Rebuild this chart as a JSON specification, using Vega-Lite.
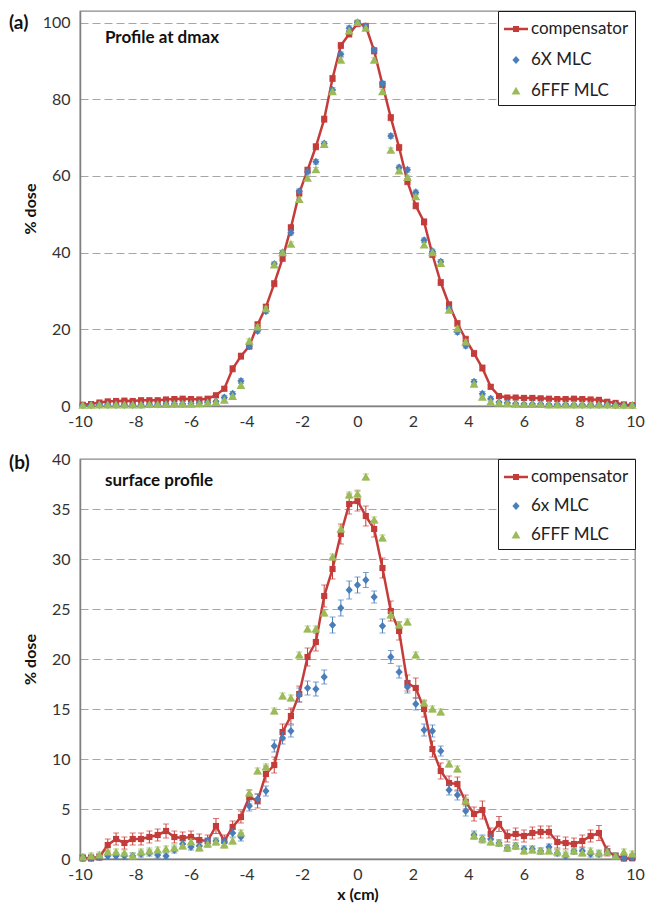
{
  "$schema": "https://vega.github.io/schema/vega-lite/v6.json",
  "background": "white",
  "padding": {"left": 8, "top": 9, "right": 0, "bottom": 0},
  "spacing": 20,
  "config": {
    "font": "Lato",
    "view": {"stroke": "#898989", "strokeWidth": 1.3},
    "axis": {"labelFont": "Lato", "labelFontSize": 16, "labelColor": "#333333", "titleFont": "Lato", "titleFontSize": 16, "titleFontWeight": "bold", "titleColor": "#111111", "ticks": false, "tickSize": 0, "domainColor": "#808080", "domainWidth": 1.5, "gridColor": "#A6A6A6", "gridDash": [8, 4], "gridWidth": 1.2},
    "axisX": {"grid": false, "labelPadding": 7, "titlePadding": 4, "labelFlush": false, "labelOverlap": false},
    "axisY": {"grid": true, "labelPadding": 10, "titlePadding": 1, "minExtent": 41, "maxExtent": 41},
    "legend": {"orient": "top-right", "offset": 0, "symbolSize": 576, "labelFontSize": 17, "labelFont": "Lato", "labelColor": "#222222", "padding": 6, "labelOffset": 3, "strokeColor": "#1a1a1a", "fillColor": "white", "symbolStrokeWidth": 0}
  },
  "resolve": {"scale": {"x": "independent", "y": "independent", "color": "independent", "shape": "independent"}, "legend": {"color": "independent", "shape": "independent"}},
  "datasets": {
    "a": [
      {"x":-9.9,"s":"compensator","y":0.3,"e":0.3},{"x":-9.6,"s":"compensator","y":0.5,"e":0.3},{"x":-9.3,"s":"compensator","y":0.9,"e":0.3},{"x":-9,"s":"compensator","y":1.2,"e":0.3},{"x":-8.7,"s":"compensator","y":1.3,"e":0.3},{"x":-8.4,"s":"compensator","y":1.4,"e":0.3},{"x":-8.1,"s":"compensator","y":1.3,"e":0.3},{"x":-7.8,"s":"compensator","y":1.5,"e":0.3},{"x":-7.5,"s":"compensator","y":1.5,"e":0.3},{"x":-7.2,"s":"compensator","y":1.5,"e":0.3},{"x":-6.9,"s":"compensator","y":1.7,"e":0.3},{"x":-6.6,"s":"compensator","y":1.8,"e":0.3},{"x":-6.3,"s":"compensator","y":1.9,"e":0.3},{"x":-6,"s":"compensator","y":1.8,"e":0.3},{"x":-5.7,"s":"compensator","y":1.7,"e":0.3},{"x":-5.4,"s":"compensator","y":1.9,"e":0.3},{"x":-5.1,"s":"compensator","y":2.8,"e":0.3},
      {"x":-4.8,"s":"compensator","y":4.5,"e":0.5},{"x":-4.5,"s":"compensator","y":9.7,"e":0.8},{"x":-4.2,"s":"compensator","y":13,"e":0.8},{"x":-3.9,"s":"compensator","y":15.6,"e":0.8},{"x":-3.6,"s":"compensator","y":21.2,"e":0.8},{"x":-3.3,"s":"compensator","y":25.8,"e":0.8},{"x":-3,"s":"compensator","y":31.9,"e":0.8},{"x":-2.7,"s":"compensator","y":38.5,"e":0.8},{"x":-2.4,"s":"compensator","y":46.5,"e":0.8},{"x":-2.1,"s":"compensator","y":55.5,"e":0.8},{"x":-1.8,"s":"compensator","y":61.5,"e":0.8},{"x":-1.5,"s":"compensator","y":67.6,"e":0.8},{"x":-1.2,"s":"compensator","y":74.8,"e":0.8},{"x":-0.9,"s":"compensator","y":85.4,"e":0.8},{"x":-0.6,"s":"compensator","y":94,"e":0.8},{"x":-0.3,"s":"compensator","y":97,"e":0.8},{"x":0,"s":"compensator","y":99.7,"e":0.8},
      {"x":0.3,"s":"compensator","y":99,"e":0.8},{"x":0.6,"s":"compensator","y":92.6,"e":0.8},{"x":0.9,"s":"compensator","y":83.8,"e":0.8},{"x":1.2,"s":"compensator","y":75.2,"e":0.8},{"x":1.5,"s":"compensator","y":67.4,"e":0.8},{"x":1.8,"s":"compensator","y":58.5,"e":0.8},{"x":2.1,"s":"compensator","y":52.2,"e":0.8},{"x":2.4,"s":"compensator","y":48,"e":0.8},{"x":2.7,"s":"compensator","y":39.5,"e":0.8},{"x":3,"s":"compensator","y":32.2,"e":0.8},{"x":3.3,"s":"compensator","y":26.4,"e":0.8},{"x":3.6,"s":"compensator","y":21.5,"e":0.8},{"x":3.9,"s":"compensator","y":17.4,"e":0.8},{"x":4.2,"s":"compensator","y":13.7,"e":0.8},{"x":4.5,"s":"compensator","y":9.9,"e":0.8},{"x":4.8,"s":"compensator","y":5,"e":0.5},
      {"x":5.1,"s":"compensator","y":2.6,"e":0.3},{"x":5.4,"s":"compensator","y":2.2,"e":0.3},{"x":5.7,"s":"compensator","y":2.2,"e":0.3},{"x":6,"s":"compensator","y":2.1,"e":0.3},{"x":6.3,"s":"compensator","y":2.1,"e":0.3},{"x":6.6,"s":"compensator","y":2,"e":0.3},{"x":6.9,"s":"compensator","y":1.9,"e":0.3},{"x":7.2,"s":"compensator","y":1.8,"e":0.3},{"x":7.5,"s":"compensator","y":1.8,"e":0.3},{"x":7.8,"s":"compensator","y":1.9,"e":0.3},{"x":8.1,"s":"compensator","y":1.8,"e":0.3},{"x":8.4,"s":"compensator","y":1.7,"e":0.3},{"x":8.7,"s":"compensator","y":1.6,"e":0.3},{"x":9,"s":"compensator","y":1.1,"e":0.3},{"x":9.3,"s":"compensator","y":0.8,"e":0.3},{"x":9.6,"s":"compensator","y":0.4,"e":0.3},{"x":9.9,"s":"compensator","y":0.2,"e":0.3},

      {"x":-9.9,"s":"6X MLC","y":0.2,"e":0.2},{"x":-9.6,"s":"6X MLC","y":0.2,"e":0.2},{"x":-9.3,"s":"6X MLC","y":0.3,"e":0.2},{"x":-9,"s":"6X MLC","y":0.3,"e":0.2},{"x":-8.7,"s":"6X MLC","y":0.3,"e":0.2},{"x":-8.4,"s":"6X MLC","y":0.3,"e":0.2},{"x":-8.1,"s":"6X MLC","y":0.3,"e":0.2},{"x":-7.8,"s":"6X MLC","y":0.3,"e":0.2},{"x":-7.5,"s":"6X MLC","y":0.4,"e":0.2},{"x":-7.2,"s":"6X MLC","y":0.4,"e":0.2},{"x":-6.9,"s":"6X MLC","y":0.5,"e":0.2},{"x":-6.6,"s":"6X MLC","y":0.5,"e":0.2},{"x":-6.3,"s":"6X MLC","y":0.5,"e":0.2},{"x":-6,"s":"6X MLC","y":0.6,"e":0.2},{"x":-5.7,"s":"6X MLC","y":0.7,"e":0.2},{"x":-5.4,"s":"6X MLC","y":0.9,"e":0.2},{"x":-5.1,"s":"6X MLC","y":1.2,"e":0.2},
      {"x":-4.8,"s":"6X MLC","y":2.2,"e":0.6},{"x":-4.5,"s":"6X MLC","y":3.2,"e":0.6},{"x":-4.2,"s":"6X MLC","y":6.5,"e":0.6},{"x":-3.9,"s":"6X MLC","y":15.6,"e":0.6},{"x":-3.6,"s":"6X MLC","y":19.6,"e":0.6},{"x":-3.3,"s":"6X MLC","y":24.7,"e":0.6},{"x":-3,"s":"6X MLC","y":37,"e":0.6},{"x":-2.7,"s":"6X MLC","y":40,"e":0.6},{"x":-2.4,"s":"6X MLC","y":45.2,"e":0.6},{"x":-2.1,"s":"6X MLC","y":56,"e":0.6},{"x":-1.8,"s":"6X MLC","y":61.1,"e":0.6},{"x":-1.5,"s":"6X MLC","y":63.7,"e":0.6},{"x":-1.2,"s":"6X MLC","y":68.4,"e":0.6},{"x":-0.9,"s":"6X MLC","y":82.4,"e":0.6},{"x":-0.6,"s":"6X MLC","y":91.7,"e":0.6},{"x":-0.3,"s":"6X MLC","y":98.5,"e":0.6},{"x":0,"s":"6X MLC","y":100,"e":0.6},
      {"x":0.3,"s":"6X MLC","y":99,"e":0.6},{"x":0.6,"s":"6X MLC","y":92.8,"e":0.6},{"x":0.9,"s":"6X MLC","y":84.1,"e":0.6},{"x":1.2,"s":"6X MLC","y":70.4,"e":0.6},{"x":1.5,"s":"6X MLC","y":62.2,"e":0.6},{"x":1.8,"s":"6X MLC","y":61.6,"e":0.6},{"x":2.1,"s":"6X MLC","y":55.7,"e":0.6},{"x":2.4,"s":"6X MLC","y":43.2,"e":0.6},{"x":2.7,"s":"6X MLC","y":40.3,"e":0.6},{"x":3,"s":"6X MLC","y":37.6,"e":0.6},{"x":3.3,"s":"6X MLC","y":25.4,"e":0.6},{"x":3.6,"s":"6X MLC","y":19.3,"e":0.6},{"x":3.9,"s":"6X MLC","y":15.7,"e":0.6},{"x":4.2,"s":"6X MLC","y":6.3,"e":0.6},{"x":4.5,"s":"6X MLC","y":3.2,"e":0.6},{"x":4.8,"s":"6X MLC","y":1.9,"e":0.6},
      {"x":5.1,"s":"6X MLC","y":1,"e":0.2},{"x":5.4,"s":"6X MLC","y":0.8,"e":0.2},{"x":5.7,"s":"6X MLC","y":0.6,"e":0.2},{"x":6,"s":"6X MLC","y":0.5,"e":0.2},{"x":6.3,"s":"6X MLC","y":0.5,"e":0.2},{"x":6.6,"s":"6X MLC","y":0.5,"e":0.2},{"x":6.9,"s":"6X MLC","y":0.4,"e":0.2},{"x":7.2,"s":"6X MLC","y":0.4,"e":0.2},{"x":7.5,"s":"6X MLC","y":0.4,"e":0.2},{"x":7.8,"s":"6X MLC","y":0.3,"e":0.2},{"x":8.1,"s":"6X MLC","y":0.3,"e":0.2},{"x":8.4,"s":"6X MLC","y":0.3,"e":0.2},{"x":8.7,"s":"6X MLC","y":0.3,"e":0.2},{"x":9,"s":"6X MLC","y":0.3,"e":0.2},{"x":9.3,"s":"6X MLC","y":0.2,"e":0.2},{"x":9.6,"s":"6X MLC","y":0.2,"e":0.2},{"x":9.9,"s":"6X MLC","y":0.2,"e":0.2},

      {"x":-9.9,"s":"6FFF MLC","y":0.2,"e":0.2},{"x":-9.6,"s":"6FFF MLC","y":0.2,"e":0.2},{"x":-9.3,"s":"6FFF MLC","y":0.3,"e":0.2},{"x":-9,"s":"6FFF MLC","y":0.3,"e":0.2},{"x":-8.7,"s":"6FFF MLC","y":0.3,"e":0.2},{"x":-8.4,"s":"6FFF MLC","y":0.3,"e":0.2},{"x":-8.1,"s":"6FFF MLC","y":0.3,"e":0.2},{"x":-7.8,"s":"6FFF MLC","y":0.3,"e":0.2},{"x":-7.5,"s":"6FFF MLC","y":0.4,"e":0.2},{"x":-7.2,"s":"6FFF MLC","y":0.4,"e":0.2},{"x":-6.9,"s":"6FFF MLC","y":0.4,"e":0.2},{"x":-6.6,"s":"6FFF MLC","y":0.5,"e":0.2},{"x":-6.3,"s":"6FFF MLC","y":0.5,"e":0.2},{"x":-6,"s":"6FFF MLC","y":0.5,"e":0.2},{"x":-5.7,"s":"6FFF MLC","y":0.6,"e":0.2},{"x":-5.4,"s":"6FFF MLC","y":0.8,"e":0.2},{"x":-5.1,"s":"6FFF MLC","y":1,"e":0.2},
      {"x":-4.8,"s":"6FFF MLC","y":1.5,"e":0.6},{"x":-4.5,"s":"6FFF MLC","y":2.5,"e":0.6},{"x":-4.2,"s":"6FFF MLC","y":5.4,"e":0.6},{"x":-3.9,"s":"6FFF MLC","y":16.9,"e":0.6},{"x":-3.6,"s":"6FFF MLC","y":20.6,"e":0.6},{"x":-3.3,"s":"6FFF MLC","y":25.4,"e":0.6},{"x":-3,"s":"6FFF MLC","y":36.8,"e":0.6},{"x":-2.7,"s":"6FFF MLC","y":40,"e":0.6},{"x":-2.4,"s":"6FFF MLC","y":42.2,"e":0.6},{"x":-2.1,"s":"6FFF MLC","y":53.9,"e":0.6},{"x":-1.8,"s":"6FFF MLC","y":59.4,"e":0.6},{"x":-1.5,"s":"6FFF MLC","y":61.6,"e":0.6},{"x":-1.2,"s":"6FFF MLC","y":68.2,"e":0.6},{"x":-0.9,"s":"6FFF MLC","y":82,"e":0.6},{"x":-0.6,"s":"6FFF MLC","y":90.2,"e":0.6},{"x":-0.3,"s":"6FFF MLC","y":97.8,"e":0.6},{"x":0,"s":"6FFF MLC","y":100,"e":0.6},
      {"x":0.3,"s":"6FFF MLC","y":98.5,"e":0.6},{"x":0.6,"s":"6FFF MLC","y":90.2,"e":0.6},{"x":0.9,"s":"6FFF MLC","y":82,"e":0.6},{"x":1.2,"s":"6FFF MLC","y":66.7,"e":0.6},{"x":1.5,"s":"6FFF MLC","y":61.3,"e":0.6},{"x":1.8,"s":"6FFF MLC","y":59.6,"e":0.6},{"x":2.1,"s":"6FFF MLC","y":54.6,"e":0.6},{"x":2.4,"s":"6FFF MLC","y":42,"e":0.6},{"x":2.7,"s":"6FFF MLC","y":40,"e":0.6},{"x":3,"s":"6FFF MLC","y":37.2,"e":0.6},{"x":3.3,"s":"6FFF MLC","y":25,"e":0.6},{"x":3.6,"s":"6FFF MLC","y":20.2,"e":0.6},{"x":3.9,"s":"6FFF MLC","y":16.7,"e":0.6},{"x":4.2,"s":"6FFF MLC","y":5.7,"e":0.6},{"x":4.5,"s":"6FFF MLC","y":2.3,"e":0.6},{"x":4.8,"s":"6FFF MLC","y":1.1,"e":0.6},
      {"x":5.1,"s":"6FFF MLC","y":0.8,"e":0.2},{"x":5.4,"s":"6FFF MLC","y":0.6,"e":0.2},{"x":5.7,"s":"6FFF MLC","y":0.5,"e":0.2},{"x":6,"s":"6FFF MLC","y":0.4,"e":0.2},{"x":6.3,"s":"6FFF MLC","y":0.4,"e":0.2},{"x":6.6,"s":"6FFF MLC","y":0.4,"e":0.2},{"x":6.9,"s":"6FFF MLC","y":0.3,"e":0.2},{"x":7.2,"s":"6FFF MLC","y":0.3,"e":0.2},{"x":7.5,"s":"6FFF MLC","y":0.3,"e":0.2},{"x":7.8,"s":"6FFF MLC","y":0.3,"e":0.2},{"x":8.1,"s":"6FFF MLC","y":0.3,"e":0.2},{"x":8.4,"s":"6FFF MLC","y":0.3,"e":0.2},{"x":8.7,"s":"6FFF MLC","y":0.3,"e":0.2},{"x":9,"s":"6FFF MLC","y":0.3,"e":0.2},{"x":9.3,"s":"6FFF MLC","y":0.2,"e":0.2},{"x":9.6,"s":"6FFF MLC","y":0.2,"e":0.2},{"x":9.9,"s":"6FFF MLC","y":0.2,"e":0.2}
    ],
    "b": [
      {"x":-9.9,"s":"compensator","y":0.1,"e":0.3},{"x":-9.6,"s":"compensator","y":0.1,"e":0.3},{"x":-9.3,"s":"compensator","y":0.2,"e":0.3},{"x":-9,"s":"compensator","y":1.4,"e":0.6},{"x":-8.7,"s":"compensator","y":2,"e":0.6},{"x":-8.4,"s":"compensator","y":1.6,"e":0.6},{"x":-8.1,"s":"compensator","y":2,"e":0.6},{"x":-7.8,"s":"compensator","y":2,"e":0.6},{"x":-7.5,"s":"compensator","y":2.2,"e":0.6},{"x":-7.2,"s":"compensator","y":2.4,"e":0.6},{"x":-6.9,"s":"compensator","y":2.8,"e":0.7},{"x":-6.6,"s":"compensator","y":2.2,"e":0.6},{"x":-6.3,"s":"compensator","y":2.1,"e":0.6},{"x":-6,"s":"compensator","y":2.2,"e":0.6},{"x":-5.7,"s":"compensator","y":1.9,"e":0.6},{"x":-5.4,"s":"compensator","y":1.8,"e":0.6},{"x":-5.1,"s":"compensator","y":3.3,"e":0.75},
      {"x":-4.8,"s":"compensator","y":1.8,"e":0.6},{"x":-4.5,"s":"compensator","y":3.2,"e":0.6},{"x":-4.2,"s":"compensator","y":4.2,"e":0.6},{"x":-3.9,"s":"compensator","y":6.2,"e":0.7},{"x":-3.6,"s":"compensator","y":5.8,"e":0.7},{"x":-3.3,"s":"compensator","y":8.5,"e":0.8},{"x":-3,"s":"compensator","y":9.4,"e":0.8},{"x":-2.7,"s":"compensator","y":12.7,"e":0.8},{"x":-2.4,"s":"compensator","y":14.3,"e":0.8},{"x":-2.1,"s":"compensator","y":16.5,"e":0.8},{"x":-1.8,"s":"compensator","y":20.2,"e":0.9},{"x":-1.5,"s":"compensator","y":21.7,"e":0.9},{"x":-1.2,"s":"compensator","y":26.3,"e":1.1},{"x":-0.9,"s":"compensator","y":29,"e":1},{"x":-0.6,"s":"compensator","y":32.5,"e":1},{"x":-0.3,"s":"compensator","y":35.5,"e":1},{"x":0,"s":"compensator","y":35.8,"e":1},
      {"x":0.3,"s":"compensator","y":34.3,"e":1},{"x":0.6,"s":"compensator","y":33,"e":0.8},{"x":0.9,"s":"compensator","y":29.1,"e":1},{"x":1.2,"s":"compensator","y":24.8,"e":1},{"x":1.5,"s":"compensator","y":22.8,"e":0.9},{"x":1.8,"s":"compensator","y":17.6,"e":0.8},{"x":2.1,"s":"compensator","y":17.1,"e":1},{"x":2.4,"s":"compensator","y":15,"e":0.8},{"x":2.7,"s":"compensator","y":11,"e":0.8},{"x":3,"s":"compensator","y":8.8,"e":0.8},{"x":3.3,"s":"compensator","y":7.6,"e":0.7},{"x":3.6,"s":"compensator","y":7.5,"e":0.7},{"x":3.9,"s":"compensator","y":5.7,"e":0.7},{"x":4.2,"s":"compensator","y":4.5,"e":0.7},{"x":4.5,"s":"compensator","y":4.9,"e":0.9},{"x":4.8,"s":"compensator","y":2.5,"e":0.6},
      {"x":5.1,"s":"compensator","y":3.5,"e":0.75},{"x":5.4,"s":"compensator","y":2.3,"e":0.6},{"x":5.7,"s":"compensator","y":2.5,"e":0.6},{"x":6,"s":"compensator","y":2.3,"e":0.6},{"x":6.3,"s":"compensator","y":2.6,"e":0.6},{"x":6.6,"s":"compensator","y":2.7,"e":0.6},{"x":6.9,"s":"compensator","y":2.7,"e":0.6},{"x":7.2,"s":"compensator","y":1.7,"e":0.6},{"x":7.5,"s":"compensator","y":1.6,"e":0.6},{"x":7.8,"s":"compensator","y":1.5,"e":0.6},{"x":8.1,"s":"compensator","y":1.8,"e":0.6},{"x":8.4,"s":"compensator","y":2.3,"e":0.6},{"x":8.7,"s":"compensator","y":2.6,"e":0.75},{"x":9,"s":"compensator","y":0.8,"e":0.5},{"x":9.3,"s":"compensator","y":0.3,"e":0.3},{"x":9.6,"s":"compensator","y":0.1,"e":0.3},{"x":9.9,"s":"compensator","y":0.1,"e":0.3},

      {"x":-9.9,"s":"6x MLC","y":0.1,"e":0.3},{"x":-9.6,"s":"6x MLC","y":0.1,"e":0.3},{"x":-9.3,"s":"6x MLC","y":0.2,"e":0.3},{"x":-9,"s":"6x MLC","y":0.3,"e":0.3},{"x":-8.7,"s":"6x MLC","y":0.3,"e":0.3},{"x":-8.4,"s":"6x MLC","y":0.3,"e":0.3},{"x":-8.1,"s":"6x MLC","y":0.3,"e":0.3},{"x":-7.8,"s":"6x MLC","y":0.5,"e":0.3},{"x":-7.5,"s":"6x MLC","y":0.6,"e":0.3},{"x":-7.2,"s":"6x MLC","y":0.4,"e":0.3},{"x":-6.9,"s":"6x MLC","y":0.3,"e":0.3},{"x":-6.6,"s":"6x MLC","y":0.9,"e":0.3},{"x":-6.3,"s":"6x MLC","y":1.5,"e":0.3},{"x":-6,"s":"6x MLC","y":1.2,"e":0.3},{"x":-5.7,"s":"6x MLC","y":1.3,"e":0.3},{"x":-5.4,"s":"6x MLC","y":1.8,"e":0.3},{"x":-5.1,"s":"6x MLC","y":1.8,"e":0.3},
      {"x":-4.8,"s":"6x MLC","y":1.7,"e":0.4},{"x":-4.5,"s":"6x MLC","y":2.6,"e":0.4},{"x":-4.2,"s":"6x MLC","y":2.2,"e":0.4},{"x":-3.9,"s":"6x MLC","y":5.3,"e":0.5},{"x":-3.6,"s":"6x MLC","y":6,"e":0.5},{"x":-3.3,"s":"6x MLC","y":6.8,"e":0.5},{"x":-3,"s":"6x MLC","y":11.3,"e":0.6},{"x":-2.7,"s":"6x MLC","y":12.1,"e":0.6},{"x":-2.4,"s":"6x MLC","y":12.8,"e":0.6},{"x":-2.1,"s":"6x MLC","y":16.4,"e":0.7},{"x":-1.8,"s":"6x MLC","y":17.1,"e":0.7},{"x":-1.5,"s":"6x MLC","y":17,"e":0.7},{"x":-1.2,"s":"6x MLC","y":18.2,"e":0.7},{"x":-0.9,"s":"6x MLC","y":23.4,"e":0.8},{"x":-0.6,"s":"6x MLC","y":25.1,"e":0.8},{"x":-0.3,"s":"6x MLC","y":26.9,"e":0.9},{"x":0,"s":"6x MLC","y":27.4,"e":0.8},
      {"x":0.3,"s":"6x MLC","y":27.9,"e":0.75},{"x":0.6,"s":"6x MLC","y":26.2,"e":0.6},{"x":0.9,"s":"6x MLC","y":23.3,"e":0.7},{"x":1.2,"s":"6x MLC","y":20.2,"e":0.65},{"x":1.5,"s":"6x MLC","y":18.7,"e":0.6},{"x":1.8,"s":"6x MLC","y":17.2,"e":0.6},{"x":2.1,"s":"6x MLC","y":15.5,"e":0.6},{"x":2.4,"s":"6x MLC","y":12.9,"e":0.6},{"x":2.7,"s":"6x MLC","y":12.8,"e":0.6},{"x":3,"s":"6x MLC","y":10.8,"e":0.5},{"x":3.3,"s":"6x MLC","y":6.9,"e":0.5},{"x":3.6,"s":"6x MLC","y":6.4,"e":0.5},{"x":3.9,"s":"6x MLC","y":4.8,"e":0.5},{"x":4.2,"s":"6x MLC","y":2.4,"e":0.4},{"x":4.5,"s":"6x MLC","y":2,"e":0.4},{"x":4.8,"s":"6x MLC","y":2,"e":0.4},
      {"x":5.1,"s":"6x MLC","y":1.6,"e":0.3},{"x":5.4,"s":"6x MLC","y":1.1,"e":0.3},{"x":5.7,"s":"6x MLC","y":1.3,"e":0.3},{"x":6,"s":"6x MLC","y":1,"e":0.3},{"x":6.3,"s":"6x MLC","y":1,"e":0.3},{"x":6.6,"s":"6x MLC","y":0.8,"e":0.3},{"x":6.9,"s":"6x MLC","y":1.2,"e":0.3},{"x":7.2,"s":"6x MLC","y":0.6,"e":0.3},{"x":7.5,"s":"6x MLC","y":0.3,"e":0.3},{"x":7.8,"s":"6x MLC","y":0.8,"e":0.3},{"x":8.1,"s":"6x MLC","y":0.8,"e":0.3},{"x":8.4,"s":"6x MLC","y":0.5,"e":0.3},{"x":8.7,"s":"6x MLC","y":0.5,"e":0.3},{"x":9,"s":"6x MLC","y":0.7,"e":0.3},{"x":9.3,"s":"6x MLC","y":0.3,"e":0.3},{"x":9.6,"s":"6x MLC","y":0.1,"e":0.3},{"x":9.9,"s":"6x MLC","y":0.2,"e":0.3},

      {"x":-9.9,"s":"6FFF MLC","y":0.2,"e":0.3},{"x":-9.6,"s":"6FFF MLC","y":0.3,"e":0.3},{"x":-9.3,"s":"6FFF MLC","y":0.4,"e":0.3},{"x":-9,"s":"6FFF MLC","y":0.7,"e":0.3},{"x":-8.7,"s":"6FFF MLC","y":0.7,"e":0.3},{"x":-8.4,"s":"6FFF MLC","y":0.6,"e":0.3},{"x":-8.1,"s":"6FFF MLC","y":0.3,"e":0.3},{"x":-7.8,"s":"6FFF MLC","y":0.7,"e":0.3},{"x":-7.5,"s":"6FFF MLC","y":0.8,"e":0.3},{"x":-7.2,"s":"6FFF MLC","y":0.9,"e":0.3},{"x":-6.9,"s":"6FFF MLC","y":1,"e":0.3},{"x":-6.6,"s":"6FFF MLC","y":1.1,"e":0.3},{"x":-6.3,"s":"6FFF MLC","y":1.3,"e":0.3},{"x":-6,"s":"6FFF MLC","y":1.7,"e":0.3},{"x":-5.7,"s":"6FFF MLC","y":1.1,"e":0.3},{"x":-5.4,"s":"6FFF MLC","y":1.5,"e":0.3},{"x":-5.1,"s":"6FFF MLC","y":1.7,"e":0.3},
      {"x":-4.8,"s":"6FFF MLC","y":1.4,"e":0.3},{"x":-4.5,"s":"6FFF MLC","y":1.8,"e":0.3},{"x":-4.2,"s":"6FFF MLC","y":2.6,"e":0.3},{"x":-3.9,"s":"6FFF MLC","y":6.6,"e":0.3},{"x":-3.6,"s":"6FFF MLC","y":8.8,"e":0.3},{"x":-3.3,"s":"6FFF MLC","y":9.2,"e":0.3},{"x":-3,"s":"6FFF MLC","y":14.8,"e":0.3},{"x":-2.7,"s":"6FFF MLC","y":16.3,"e":0.3},{"x":-2.4,"s":"6FFF MLC","y":16.1,"e":0.3},{"x":-2.1,"s":"6FFF MLC","y":20.4,"e":0.3},{"x":-1.8,"s":"6FFF MLC","y":23,"e":0.3},{"x":-1.5,"s":"6FFF MLC","y":23,"e":0.3},{"x":-1.2,"s":"6FFF MLC","y":24.6,"e":0.3},{"x":-0.9,"s":"6FFF MLC","y":30.2,"e":0.3},{"x":-0.6,"s":"6FFF MLC","y":33,"e":0.3},{"x":-0.3,"s":"6FFF MLC","y":36.4,"e":0.3},{"x":0,"s":"6FFF MLC","y":36.5,"e":0.4},
      {"x":0.3,"s":"6FFF MLC","y":38.2,"e":0.3},{"x":0.6,"s":"6FFF MLC","y":33.9,"e":0.3},{"x":0.9,"s":"6FFF MLC","y":32.1,"e":0.3},{"x":1.2,"s":"6FFF MLC","y":24.4,"e":0.3},{"x":1.5,"s":"6FFF MLC","y":23.4,"e":0.3},{"x":1.8,"s":"6FFF MLC","y":23.7,"e":0.3},{"x":2.1,"s":"6FFF MLC","y":20.4,"e":0.3},{"x":2.4,"s":"6FFF MLC","y":15.6,"e":0.3},{"x":2.7,"s":"6FFF MLC","y":15,"e":0.3},{"x":3,"s":"6FFF MLC","y":14.7,"e":0.3},{"x":3.3,"s":"6FFF MLC","y":9.5,"e":0.3},{"x":3.6,"s":"6FFF MLC","y":9,"e":0.3},{"x":3.9,"s":"6FFF MLC","y":5.8,"e":0.3},{"x":4.2,"s":"6FFF MLC","y":2.3,"e":0.3},{"x":4.5,"s":"6FFF MLC","y":2,"e":0.3},{"x":4.8,"s":"6FFF MLC","y":1.7,"e":0.3},
      {"x":5.1,"s":"6FFF MLC","y":1.6,"e":0.3},{"x":5.4,"s":"6FFF MLC","y":1.1,"e":0.3},{"x":5.7,"s":"6FFF MLC","y":1.3,"e":0.3},{"x":6,"s":"6FFF MLC","y":0.8,"e":0.3},{"x":6.3,"s":"6FFF MLC","y":0.9,"e":0.3},{"x":6.6,"s":"6FFF MLC","y":0.8,"e":0.3},{"x":6.9,"s":"6FFF MLC","y":0.8,"e":0.3},{"x":7.2,"s":"6FFF MLC","y":0.7,"e":0.3},{"x":7.5,"s":"6FFF MLC","y":0.5,"e":0.3},{"x":7.8,"s":"6FFF MLC","y":0.8,"e":0.3},{"x":8.1,"s":"6FFF MLC","y":0.6,"e":0.3},{"x":8.4,"s":"6FFF MLC","y":0.8,"e":0.3},{"x":8.7,"s":"6FFF MLC","y":0.6,"e":0.3},{"x":9,"s":"6FFF MLC","y":0.7,"e":0.3},{"x":9.3,"s":"6FFF MLC","y":0.3,"e":0.3},{"x":9.6,"s":"6FFF MLC","y":0.7,"e":0.3},{"x":9.9,"s":"6FFF MLC","y":0.5,"e":0.3}
    ]
  },
  "vconcat": [
    {
      "width": 555,
      "height": 395,
      "data": {"name": "a"},
      "encoding": {
        "x": {"field": "x", "type": "quantitative", "scale": {"domain": [-10, 10], "nice": false, "zero": false}, "axis": {"title": null, "values": [-10, -8, -6, -4, -2, 0, 2, 4, 6, 8, 10], "labelExpr": "datum.value < 0 ? '-' + abs(datum.value) : '' + datum.value"}},
        "y": {"field": "y", "type": "quantitative", "scale": {"domain": [0, 103], "nice": false}, "axis": {"title": "% dose", "values": [0, 20, 40, 60, 80, 100]}}
      },
      "layer": [
        {"transform": [{"filter": "datum.s === 'compensator'"}], "mark": {"type": "errorbar", "ticks": true, "size": 6, "thickness": 1, "color": "#C43C3A"}, "encoding": {"yError": {"field": "e"}}},
        {"transform": [{"filter": "datum.s === 'compensator'"}], "mark": {"type": "line", "color": "#C43C3A", "strokeWidth": 2.5}},
        {"transform": [{"filter": "datum.s === 'compensator'"}], "mark": {"type": "point", "shape": "square", "filled": true, "size": 38, "color": "#C43C3A", "opacity": 1}},
        {"transform": [{"filter": "datum.s === '6X MLC'"}], "mark": {"type": "errorbar", "ticks": true, "size": 6, "thickness": 1, "color": "#4A7EBB"}, "encoding": {"yError": {"field": "e"}}},
        {"transform": [{"filter": "datum.s === '6FFF MLC'"}], "mark": {"type": "errorbar", "ticks": true, "size": 6, "thickness": 1, "color": "#9BBB59"}, "encoding": {"yError": {"field": "e"}}},
        {"transform": [{"filter": "datum.s !== 'compensator'"}], "mark": {"type": "point", "filled": true, "size": 576, "opacity": 1},
         "encoding": {
           "color": {"field": "s", "type": "nominal", "title": null, "scale": {"domain": ["compensator", "6X MLC", "6FFF MLC"], "range": ["#C43C3A", "#4A7EBB", "#9BBB59"]}, "legend": {"rowPadding": 11}},
           "shape": {"field": "s", "type": "nominal", "title": null, "scale": {"domain": ["compensator", "6X MLC", "6FFF MLC"], "range": ["M-1,-0.1H-0.25V-0.25H0.25V-0.1H1V0.1H0.25V0.25H-0.25V0.1H-1Z", "M0,-0.34L0.3,0L0,0.34L-0.3,0Z", "M0,-0.36L0.37,0.3L-0.37,0.3Z"]}, "legend": {"rowPadding": 11}}
         }},
        {"data": {"values": [{"lab": "(a)", "x": -10, "y": 100}]}, "mark": {"type": "text", "align": "left", "baseline": "middle", "dx": -71, "fontSize": 19, "fontWeight": "bold", "font": "Lato", "color": "#111111"}, "encoding": {"text": {"field": "lab"}}},
        {"data": {"values": [{"lab": "Profile at dmax", "x": -9.1, "y": 96}]}, "mark": {"type": "text", "align": "left", "baseline": "middle", "fontSize": 17, "fontWeight": "bold", "font": "Lato", "color": "#111111"}, "encoding": {"text": {"field": "lab"}}}
      ]
    },
    {
      "width": 555,
      "height": 400,
      "data": {"name": "b"},
      "encoding": {
        "x": {"field": "x", "type": "quantitative", "scale": {"domain": [-10, 10], "nice": false, "zero": false}, "axis": {"title": "x (cm)", "values": [-10, -8, -6, -4, -2, 0, 2, 4, 6, 8, 10], "labelExpr": "datum.value < 0 ? '-' + abs(datum.value) : '' + datum.value"}},
        "y": {"field": "y", "type": "quantitative", "scale": {"domain": [0, 40], "nice": false}, "axis": {"title": "% dose", "values": [0, 5, 10, 15, 20, 25, 30, 35, 40]}}
      },
      "layer": [
        {"transform": [{"filter": "datum.s === 'compensator'"}], "mark": {"type": "errorbar", "ticks": true, "size": 6, "thickness": 1, "color": "#C43C3A"}, "encoding": {"yError": {"field": "e"}}},
        {"transform": [{"filter": "datum.s === 'compensator'"}], "mark": {"type": "line", "color": "#C43C3A", "strokeWidth": 2.5}},
        {"transform": [{"filter": "datum.s === 'compensator'"}], "mark": {"type": "point", "shape": "square", "filled": true, "size": 38, "color": "#C43C3A", "opacity": 1}},
        {"transform": [{"filter": "datum.s === '6x MLC'"}], "mark": {"type": "errorbar", "ticks": true, "size": 6, "thickness": 1, "color": "#4A7EBB"}, "encoding": {"yError": {"field": "e"}}},
        {"transform": [{"filter": "datum.s === '6FFF MLC'"}], "mark": {"type": "errorbar", "ticks": true, "size": 6, "thickness": 1, "color": "#9BBB59"}, "encoding": {"yError": {"field": "e"}}},
        {"transform": [{"filter": "datum.s !== 'compensator'"}], "mark": {"type": "point", "filled": true, "size": 576, "opacity": 1},
         "encoding": {
           "color": {"field": "s", "type": "nominal", "title": null, "scale": {"domain": ["compensator", "6x MLC", "6FFF MLC"], "range": ["#C43C3A", "#4A7EBB", "#9BBB59"]}, "legend": {"rowPadding": 9}},
           "shape": {"field": "s", "type": "nominal", "title": null, "scale": {"domain": ["compensator", "6x MLC", "6FFF MLC"], "range": ["M-1,-0.1H-0.25V-0.25H0.25V-0.1H1V0.1H0.25V0.25H-0.25V0.1H-1Z", "M0,-0.34L0.3,0L0,0.34L-0.3,0Z", "M0,-0.36L0.37,0.3L-0.37,0.3Z"]}, "legend": {"rowPadding": 9}}
         }},
        {"data": {"values": [{"lab": "(b)", "x": -10, "y": 40}]}, "mark": {"type": "text", "align": "left", "baseline": "middle", "dx": -71, "dy": 4, "fontSize": 19, "fontWeight": "bold", "font": "Lato", "color": "#111111"}, "encoding": {"text": {"field": "lab"}}},
        {"data": {"values": [{"lab": "surface profile", "x": -9.1, "y": 37.8}]}, "mark": {"type": "text", "align": "left", "baseline": "middle", "fontSize": 17, "fontWeight": "bold", "font": "Lato", "color": "#111111"}, "encoding": {"text": {"field": "lab"}}}
      ]
    }
  ]
}
